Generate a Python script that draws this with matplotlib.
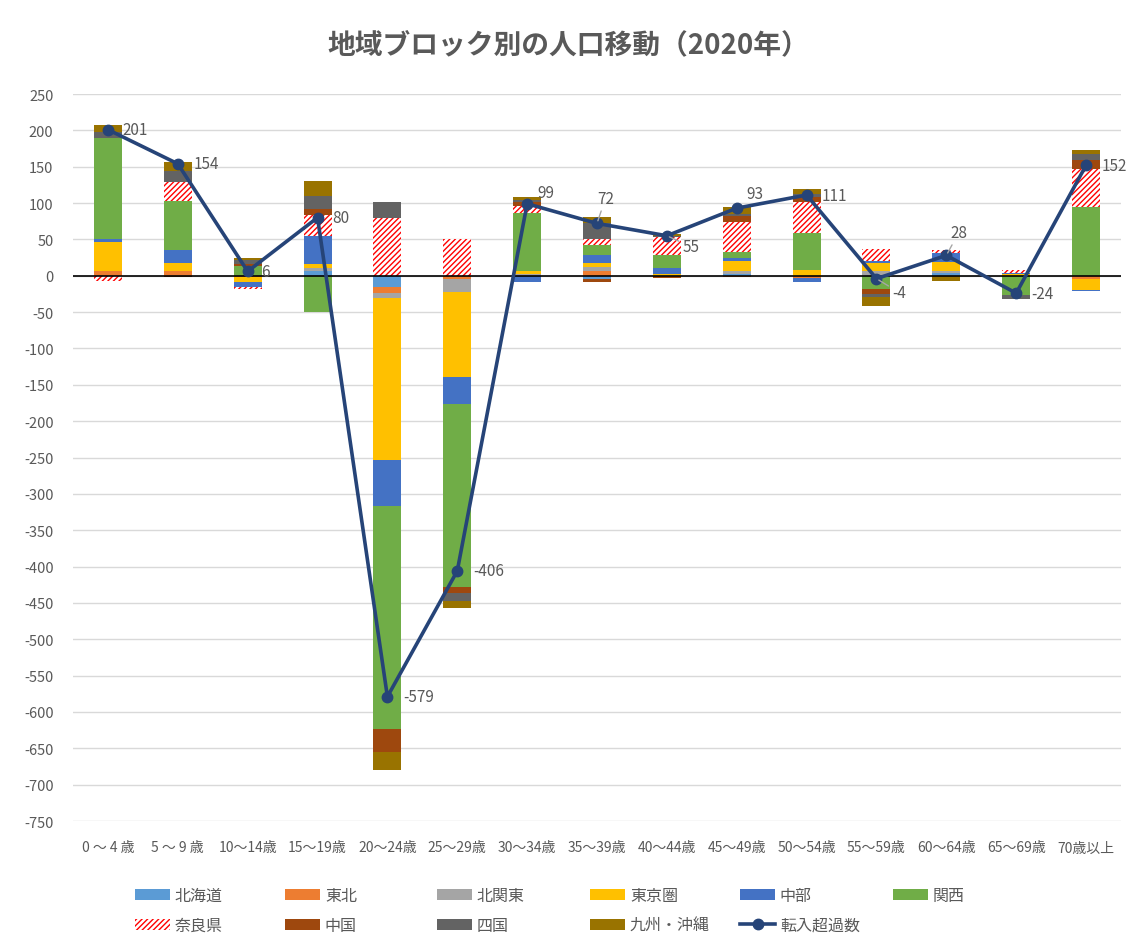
import numpy as np
import matplotlib
matplotlib.use("Agg")
import matplotlib.pyplot as plt
from matplotlib.patches import Patch
from matplotlib.lines import Line2D

plt.rcParams['font.family'] = ['Noto Sans CJK JP', 'DejaVu Sans']
plt.rcParams['axes.unicode_minus'] = False
plt.rcParams['hatch.linewidth'] = 1.0

# ---------------- data ----------------
categories = ['0 ～ 4 歳', '5 ～ 9 歳', '10～14歳', '15～19歳', '20～24歳', '25～29歳',
              '30～34歳', '35～39歳', '40～44歳', '45～49歳', '50～54歳', '55～59歳',
              '60～64歳', '65～69歳', '70歳以上']

hokkaido = [0, 0, 0, 6, -15, 0, 0, -4, 0, 3, 0, 0, 4, 0, 0]
tohoku = [6, 7, -2, 0, -9, -5, 0, 7, 0, -2, -3, 0, 0, 0, -4]
kitakanto = [1, 0, 0, 5, -7, -18, 2, 5, 0, 4, 0, 7, 3, 0, 0]
tokyo = [39, 11, -6, 5, -223, -116, 5, 5, 2, 13, 8, 11, 12, 2, -15]
chubu = [4, 17, -8, 39, -63, -37, -9, 12, 9, 5, -6, 2, 12, 2, -2]
kansai = [140, 68, 14, -50, -306, -252, 80, 13, 18, 7, 51, -18, 0, -27, 94]
nara = [-7, 26, -2, 29, 79, 51, 9, 9, 24, 42, 42, 17, 4, 4, 53]
chugoku = [0, -2, 2, 8, -32, -9, 5, -5, -3, 8, 7, -7, 0, 0, 12]
shikoku = [8, 15, 6, 18, 22, -10, 3, 21, 1, 3, 5, -4, 0, -5, 8]
kyushu = [10, 12, 2, 20, -25, -10, 4, 9, 4, 10, 7, -12, -7, 0, 6]
net = [201, 154, 6, 80, -579, -406, 99, 72, 55, 93, 111, -4, 28, -24, 152]

series_names = ['北海道', '東北', '北関東', '東京圏', '中部', '関西', '奈良県', '中国', '四国', '九州・沖縄']
series_values = [hokkaido, tohoku, kitakanto, tokyo, chubu, kansai, nara, chugoku, shikoku, kyushu]
line_name = '転入超過数'
title = '地域ブロック別の人口移動（2020年）'
yticks = list(range(-750, 251, 50))

# ---------------- styles ----------------
colors = ['#5B9BD5', '#ED7D31', '#A5A5A5', '#FFC000', '#4472C4', '#70AD47',
          None, '#9E480E', '#636363', '#997300']
line_color = '#264478'
text_color = '#595959'
nara_hatch = '//////'

# label offsets in pixels (dx, dy), and whether a leader line is drawn
label_offsets = [(15, 0), (16, 0), (13, 0), (15, 0), (16, 0), (16, 0), (10, 11), (0, 25),
                 (16, -11), (10, 15), (15, 0), (16, -14), (4, 23), (15, 0), (16, 0)]
leaders = [False, False, False, False, False, False, False, True,
           True, False, False, True, True, False, False]

W, H = 1136, 937
fig = plt.figure(figsize=(W / 100, H / 100), dpi=100)
ax = fig.add_axes([73 / W, 1 - 822 / H, (1121 - 73) / W, (822 - 95) / H])

x = np.arange(len(categories))
pos_bottom = np.zeros(len(categories))
neg_bottom = np.zeros(len(categories))
bar_w = 0.4
handles = []
for name, vals, col in zip(series_names, series_values, colors):
    v = np.array(vals, dtype=float)
    bottoms = np.where(v >= 0, pos_bottom, neg_bottom)
    if col is None:
        ax.bar(x, v, bar_w, bottom=bottoms, facecolor='white', edgecolor='#FF0000',
               hatch=nara_hatch, linewidth=0, zorder=2)
        handles.append(Patch(facecolor='white', edgecolor='#FF0000', hatch=nara_hatch,
                             linewidth=0, label=name))
    else:
        ax.bar(x, v, bar_w, bottom=bottoms, color=col, linewidth=0, zorder=2)
        handles.append(Patch(facecolor=col, linewidth=0, label=name))
    pos_bottom = pos_bottom + np.where(v > 0, v, 0)
    neg_bottom = neg_bottom + np.where(v < 0, v, 0)

ax.plot(x, net, color=line_color, lw=2.6, marker='o', ms=7.5, zorder=4)
line_handle = Line2D([], [], color=line_color, lw=2.6, marker='o', ms=7.5, label=line_name)

for xi, val, (dx, dy), ld in zip(x, net, label_offsets, leaders):
    if ld:
        ax.annotate(str(val), xy=(xi, val), xytext=(dx, dy), textcoords='offset pixels',
                    ha='left', va='center', fontsize=11, color=text_color, zorder=5,
                    arrowprops=dict(arrowstyle='-', color='#A6A6A6', lw=1, shrinkA=1, shrinkB=2))
    else:
        ax.annotate(str(val), xy=(xi, val), xytext=(dx, dy), textcoords='offset pixels',
                    ha='left', va='center', fontsize=11, color=text_color, zorder=5)

ax.axhline(0, color='black', lw=1.2, zorder=3)
ax.set_xlim(-0.5, len(categories) - 0.5)
ax.set_ylim(-750, 250)
ax.set_yticks(yticks)
ax.set_yticklabels([str(t) for t in yticks])
ax.set_xticks(x)
ax.set_xticklabels(categories)
ax.yaxis.grid(True, color='#D9D9D9', lw=1, zorder=0)
ax.set_axisbelow(True)
for s in ax.spines.values():
    s.set_visible(False)
ax.tick_params(axis='both', length=0, colors=text_color)
ax.tick_params(axis='y', labelsize=10.5, pad=14)
ax.tick_params(axis='x', labelsize=10, pad=14)

fig.text(0.5, 1 - 45 / H, title, ha='center', va='center', fontsize=20,
         fontweight='bold', color=text_color)

# legend: 6 columns, 2 rows
col_x = [135, 285, 437, 590, 740, 893]
rows = [handles[0:6], handles[6:10] + [line_handle]]
for ci, cx in enumerate(col_x):
    hs = [rows[0][ci]]
    if ci < len(rows[1]):
        hs.append(rows[1][ci])
    fig.legend(handles=hs, loc='upper left', bbox_to_anchor=(cx / W, 1 - 888 / H),
               frameon=False, fontsize=11.5, borderpad=0, borderaxespad=0,
               handlelength=2.2, handletextpad=0.3, labelspacing=0.8,
               labelcolor=text_color)

fig.savefig('out.png', dpi=100, facecolor='white')
